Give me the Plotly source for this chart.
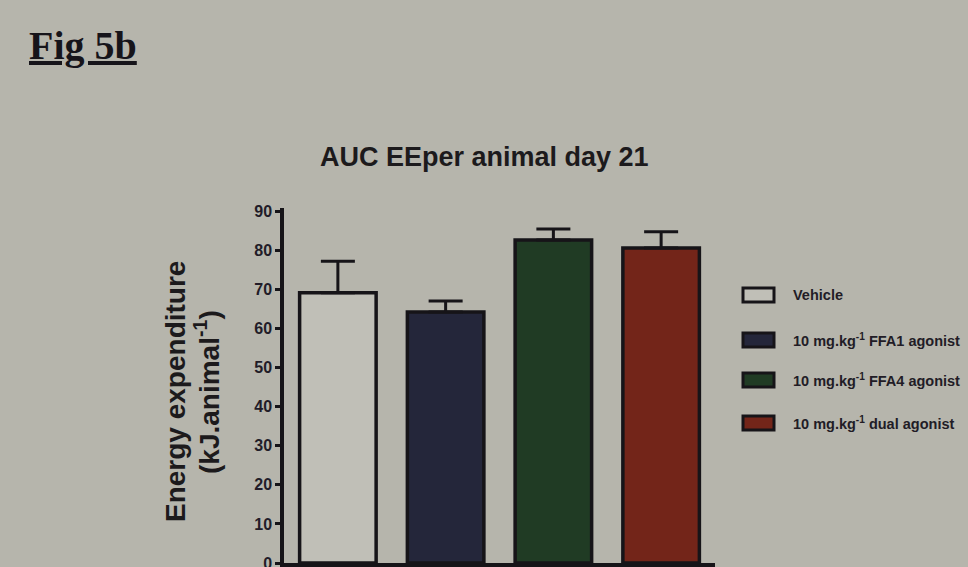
import plotly.graph_objects as go

# Group data: AUC energy expenditure per animal, day 21
groups = ["Vehicle", "10 mg.kg⁻¹ FFA1 agonist", "10 mg.kg⁻¹ FFA4 agonist", "10 mg.kg⁻¹ dual agonist"]
legend_labels = ["Vehicle", "10 mg.kg<sup>-1</sup> FFA1 agonist",
                 "10 mg.kg<sup>-1</sup> FFA4 agonist", "10 mg.kg<sup>-1</sup> dual agonist"]
means = [69.1, 64.2, 82.6, 80.6]
sem = [8.1, 2.8, 2.8, 4.1]
fills = ["#c0bfb7", "#24263a", "#203b24", "#732519"]
y_ticks = [0, 10, 20, 30, 40, 50, 60, 70, 80, 90]

W, H = 968, 567
ML, MR, MT, MB = 284, 253, 208, 4
PW, PH = W - ML - MR, H - MT - MB
BG = "#b6b5ac"
FONT = "Liberation Sans, Arial, sans-serif"
INK = "#161418"


def px(x):
    return (x - ML) / PW


def py(y):
    return (H - MB - y) / PH


fig = go.Figure()
fig.add_trace(go.Bar(
    x=groups, y=means,
    marker=dict(color=fills, line=dict(color=INK, width=3.5)),
    error_y=dict(type="data", array=sem, arrayminus=[0] * len(sem), symmetric=False,
                 color=INK, thickness=3, width=17),
    showlegend=False,
))

# Legend drawn as swatches with labels
legend_y = [295, 340, 380, 423]
for lab, col, yc in zip(legend_labels, fills, legend_y):
    fig.add_shape(type="rect", xref="paper", yref="paper",
                  x0=px(743), x1=px(774), y0=py(yc + 7), y1=py(yc - 7),
                  fillcolor=col, line=dict(color=INK, width=3))
    fig.add_annotation(xref="paper", yref="paper", x=px(791), y=py(yc),
                       text="<b>" + lab + "</b>", showarrow=False,
                       xanchor="left", yanchor="middle",
                       font=dict(family=FONT, size=14.5, color="#221c26"))

# Chart title
fig.add_annotation(xref="paper", yref="paper", x=px(484), y=py(157),
                   text="<b>AUC EEper animal day 21</b>", showarrow=False,
                   xanchor="center", yanchor="middle",
                   font=dict(family=FONT, size=27, color="#1c1a1c"))

# Y axis title (two lines)
fig.add_annotation(xref="paper", yref="paper", x=px(175), y=py(392),
                   text="<b>Energy expenditure</b>", showarrow=False, textangle=-90,
                   xanchor="center", yanchor="middle",
                   font=dict(family=FONT, size=28, color="#1c1a1c"))
fig.add_annotation(xref="paper", yref="paper", x=px(207), y=py(392),
                   text="<b>(kJ.animal<sup>-1</sup>)</b>", showarrow=False, textangle=-90,
                   xanchor="center", yanchor="middle",
                   font=dict(family=FONT, size=28, color="#1c1a1c"))

# Figure label
fig.add_annotation(xref="paper", yref="paper", x=px(27), y=py(46),
                   text="<b><u>Fig 5b</u></b>", showarrow=False,
                   xanchor="left", yanchor="middle",
                   font=dict(family="Liberation Serif, Times New Roman, serif", size=40,
                             color="#16141a"))

fig.update_layout(
    width=W, height=H,
    margin=dict(l=ML, r=MR, t=MT, b=MB, autoexpand=False),
    paper_bgcolor=BG, plot_bgcolor=BG,
    bargap=0.29,
    template="none",
    xaxis=dict(showgrid=False, zeroline=False, showline=True, linecolor=INK,
               linewidth=3.5, ticks="outside", ticklen=7, tickwidth=2.5,
               tickcolor=INK, showticklabels=False, range=[-0.5, 3.5]),
    yaxis=dict(range=[0, 90.8], tickvals=y_ticks, showgrid=False, zeroline=False,
               showline=True, linecolor=INK, linewidth=3.5,
               ticks="outside", ticklen=5, tickwidth=2.5, tickcolor=INK,
               ticklabeloverflow="allow",
               tickfont=dict(family=FONT, size=16, weight="bold", color="#221c28")),
)

fig.write_html("out.html")
